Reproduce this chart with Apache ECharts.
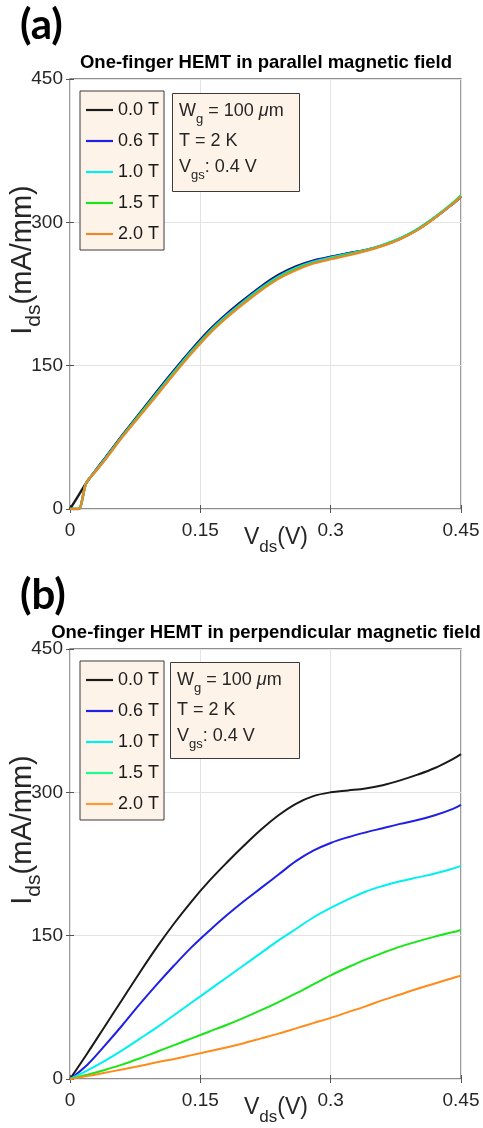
<!DOCTYPE html>
<html>
<head>
<meta charset="utf-8">
<script src="https://cdn.jsdelivr.net/npm/echarts@6/dist/echarts.min.js"></script>
<style>html,body{margin:0;padding:0;background:#fff;}#c{width:483px;height:1128px;}</style>
</head>
<body>
<div id="c"></div>
<script>
// ---------- data ----------
const fieldLabels = ['0.0 T', '0.6 T', '1.0 T', '1.5 T', '2.0 T'];
const xTicks = [0, 0.15, 0.3, 0.45];
const yTicks = [0, 150, 300, 450];

// panel (a): parallel field
const vdsA = [0, 0.01, 0.0185, 0.03, 0.04, 0.06, 0.08, 0.10, 0.12, 0.14, 0.16, 0.18, 0.20, 0.22, 0.24, 0.26, 0.28, 0.30, 0.32, 0.34, 0.36, 0.38, 0.40, 0.42, 0.44, 0.45];
const idsA00 = [0, 14.5, 27, 41, 53, 77, 100, 123, 145.5, 167, 187, 204, 219, 233, 245, 254, 260, 264, 267.5, 271, 276, 283, 292.5, 305, 319, 327];
const idsA06 = [0, 0, 27, 40.5, 52.5, 76.5, 99, 122, 144.5, 166, 186, 203, 218, 232, 244, 253, 259.5, 263.5, 267.5, 271, 276, 283, 292.5, 305, 319, 327.5];
const idsA10 = [0, 0, 27, 40.5, 52, 76, 98.5, 121, 143.5, 165, 185, 202, 217, 231, 243, 252, 258.5, 263, 267, 271, 276.5, 283.5, 293, 305.5, 320, 328];
const idsA15 = [0, 0, 27, 40, 51.5, 75.5, 98, 120, 142.5, 164, 184, 201, 216, 230, 242, 251, 257.5, 262, 266.5, 270.5, 276, 283, 292.5, 305, 319.5, 328];
const idsA20 = [0, 0, 27, 40, 51, 75, 97, 119, 141.5, 163, 183, 200, 215, 229, 241, 250, 257, 261.5, 265.5, 270, 275.5, 282.5, 292, 304.5, 319, 327];

// panel (b): perpendicular field
const vdsB = [0, 0.02, 0.04, 0.06, 0.08, 0.10, 0.12, 0.14, 0.16, 0.18, 0.20, 0.22, 0.24, 0.26, 0.28, 0.30, 0.32, 0.34, 0.36, 0.38, 0.40, 0.42, 0.44, 0.45];
const idsB00 = [0, 27, 55, 83, 111, 138, 163, 186, 207, 226, 244, 261, 276, 288, 296, 300, 302, 304, 307.5, 312.5, 318.5, 325.5, 334.5, 340];
const idsB06 = [0, 15, 35, 56, 78, 99, 119, 138, 155, 171, 186, 200, 214, 228, 239, 247, 253, 258, 262.5, 267, 271, 276, 282.5, 287];
const idsB10 = [0, 9, 19, 30, 42, 54, 67, 80, 93, 106, 119, 132, 145, 157, 169, 179, 188, 196, 202, 207, 211, 215, 220, 223];
const idsB15 = [0, 4.5, 9.5, 15, 21.5, 28.5, 35.5, 42.5, 49.5, 56.5, 64, 72, 80.5, 89.5, 99, 108.5, 117, 125, 132, 138.5, 144, 149, 153.5, 156];
const idsB20 = [0, 3, 6.5, 10, 13.5, 17.5, 21, 25, 29, 33, 37.5, 42.5, 47.5, 53, 58.5, 64, 70, 76, 82.5, 88.5, 94.5, 100, 105.5, 108];

// ---------- style ----------
const FONT = '"Liberation Sans", Arial, Helvetica, sans-serif';
const TXT = '#262626';
const colorsA = ['#1a1a1a', '#1f1fe6', '#00f0f0', '#19e619', '#e5892a'];
const colorsB = ['#1a1a1a', '#1f1fe6', '#00f0f0', '#19e619', '#ff8c1a'];
const legendIconB = ['#1a1a1a', '#1f1fe6', '#00f0f0', '#1aff8c', '#ff9933'];

const seriesA = [idsA00, idsA06, idsA10, idsA15, idsA20];
const seriesB = [idsB00, idsB06, idsB10, idsB15, idsB20];

const ctx = document.createElement('canvas').getContext('2d');
function measure(t, size, weight, style) {
  ctx.font = (style || 'normal') + ' ' + (weight || 'normal') + ' ' + size + 'px ' + FONT;
  return ctx.measureText(t).width;
}
// parts: [text, size, dy, fontStyle]
function pieces(cx, cy, parts, align) {
  const w = parts.map(p => measure(p[0], p[1], 'normal', p[3]));
  const total = w.reduce((a, b) => a + b, 0);
  let x = align === 'center' ? cx - total / 2 : cx;
  return parts.map((p, i) => {
    const el = {
      type: 'text', x: x, y: cy + (p[2] || 0), silent: true, z: 100,
      style: {
        text: p[0], fontSize: p[1], fontFamily: FONT, fontStyle: p[3] || 'normal',
        fill: TXT, textAlign: 'left', textVerticalAlign: 'middle', align: 'left', verticalAlign: 'middle'
      }
    };
    x += w[i];
    return el;
  });
}

function panelGraphics(dy, letter, title, boxX, boxY, boxW, boxH) {
  const els = [];
  els.push({ type: 'text', x: 20, y: 25 + dy, silent: true, z: 100,
    style: { text: letter, fontSize: 42, fontWeight: 'bold', fontFamily: 'Lato, "Open Sans", sans-serif', fill: '#000',
      textAlign: 'left', textVerticalAlign: 'middle', align: 'left', verticalAlign: 'middle' } });
  els.push({ type: 'text', x: 266, y: 63 + dy, silent: true, z: 100,
    style: { text: title, fontSize: 18.5, fontWeight: 'bold', fontFamily: FONT, fill: '#000',
      textAlign: 'center', textVerticalAlign: 'middle', align: 'center', verticalAlign: 'middle' } });
  // x axis name
  pieces(276, 538 + dy, [['V', 23, 0], ['ds', 17, 9], ['(V)', 23, 0]], 'center').forEach(e => els.push(e));
  // y axis name (rotated)
  els.push({ type: 'group', x: 23, y: 260 + dy, rotation: Math.PI / 2, z: 100,
    children: pieces(0, 0, [['I', 29, 0], ['ds', 21, 11], ['(mA/mm)', 29, 0]], 'center') });
  // info box
  els.push({ type: 'rect', silent: true, z: 90, shape: { x: boxX + 0.5, y: boxY + 0.5, width: boxW, height: boxH },
    style: { fill: '#fdf3e8', stroke: '#3a3a3a', lineWidth: 1 } });
  const tx = boxX + 7;
  pieces(tx, boxY + 18, [['W', 18, 0], ['g', 13, 8], [' = 100 ', 18, 0], ['\u03bc', 18, 0, 'italic'], ['m', 18, 0]], 'left').forEach(e => els.push(e));
  pieces(tx, boxY + 48, [['T = 2 K', 18, 0]], 'left').forEach(e => els.push(e));
  pieces(tx, boxY + 74, [['V', 18, 0], ['gs', 13, 8], [': 0.4 V', 18, 0]], 'left').forEach(e => els.push(e));
  return els;
}

const grids = [
  { left: 70, top: 79, width: 391, height: 430, show: true, borderColor: '#6a6a6a', borderWidth: 1.3, backgroundColor: '#fff' },
  { left: 70, top: 649, width: 391, height: 430, show: true, borderColor: '#6a6a6a', borderWidth: 1.3, backgroundColor: '#fff' }
];

function xAxes(gi) {
  return [{
    type: 'value', gridIndex: gi, min: 0, max: 0.45, interval: 0.15, position: 'bottom',
    axisLine: { show: false },
    axisTick: { show: true, inside: true, length: 4, lineStyle: { color: '#555' } },
    axisLabel: { fontSize: 19, fontFamily: FONT, color: TXT, margin: 12, formatter: v => String(+(+v).toFixed(2)) },
    splitLine: { show: true, lineStyle: { color: '#e3e3e3', width: 1 } }
  }, {
    type: 'value', gridIndex: gi, min: 0, max: 0.45, interval: 0.15, position: 'top',
    axisLine: { show: false },
    axisTick: { show: true, inside: true, length: 4, lineStyle: { color: '#555' } },
    axisLabel: { show: false }, splitLine: { show: false }
  }];
}
function yAxes(gi) {
  return [{
    type: 'value', gridIndex: gi, min: 0, max: 450, interval: 150, position: 'left',
    axisLine: { show: false },
    axisTick: { show: true, inside: true, length: 4, lineStyle: { color: '#555' } },
    axisLabel: { fontSize: 19, fontFamily: FONT, color: TXT, margin: 7 },
    splitLine: { show: true, lineStyle: { color: '#e3e3e3', width: 1 } }
  }, {
    type: 'value', gridIndex: gi, min: 0, max: 450, interval: 150, position: 'right',
    axisLine: { show: false },
    axisTick: { show: true, inside: true, length: 4, lineStyle: { color: '#555' } },
    axisLabel: { show: false }, splitLine: { show: false }
  }];
}

const series = [];
seriesA.forEach((ys, i) => {
  series.push({ name: 'a|' + fieldLabels[i], type: 'line', xAxisIndex: 0, yAxisIndex: 0,
    data: vdsA.map((v, k) => [v, ys[k]]), showSymbol: false, symbol: 'none', smooth: 0.25,
    lineStyle: { color: colorsA[i], width: 2.4 }, itemStyle: { color: colorsA[i] }, z: 3 + i });
});
seriesB.forEach((ys, i) => {
  series.push({ name: 'b|' + fieldLabels[i], type: 'line', xAxisIndex: 2, yAxisIndex: 2,
    data: vdsB.map((v, k) => [v, ys[k]]), showSymbol: false, symbol: 'none', smooth: 0.35,
    lineStyle: { color: colorsB[i], width: 2 }, itemStyle: { color: colorsB[i] }, z: 3 + i });
});

function legendCfg(prefix, top, iconColors) {
  return {
    show: true, orient: 'vertical', left: 80, top: top, selectedMode: false, z: 50,
    icon: 'rect',
    data: fieldLabels.map((n, i) => ({ name: prefix + n, icon: 'rect', itemStyle: { color: iconColors[i], borderWidth: 0 } })),
    formatter: n => n.split('|')[1],
    itemWidth: 27, itemHeight: 2.2, itemGap: 13,
    padding: [10, 5, 7, 6],
    backgroundColor: '#fdf3e8', borderColor: '#3a3a3a', borderWidth: 1, borderRadius: 0,
    textStyle: { fontSize: 18, fontFamily: FONT, color: '#1a1a1a' }
  };
}

const chart = echarts.init(document.getElementById('c'), null, { renderer: 'canvas' });
chart.setOption({
  animation: false,
  backgroundColor: '#fff',
  grid: grids,
  xAxis: [...xAxes(0), ...xAxes(1)],
  yAxis: [...yAxes(0), ...yAxes(1)],
  legend: [legendCfg('a|', 91, colorsA), legendCfg('b|', 661, legendIconB)],
  series: series,
  graphic: [
    ...panelGraphics(0, '(a)', 'One-finger HEMT in parallel magnetic field', 172, 93, 127, 98),
    ...panelGraphics(570, '(b)', 'One-finger HEMT in perpendicular magnetic field', 170, 662, 129, 96)
  ]
});
</script>
</body>
</html>
